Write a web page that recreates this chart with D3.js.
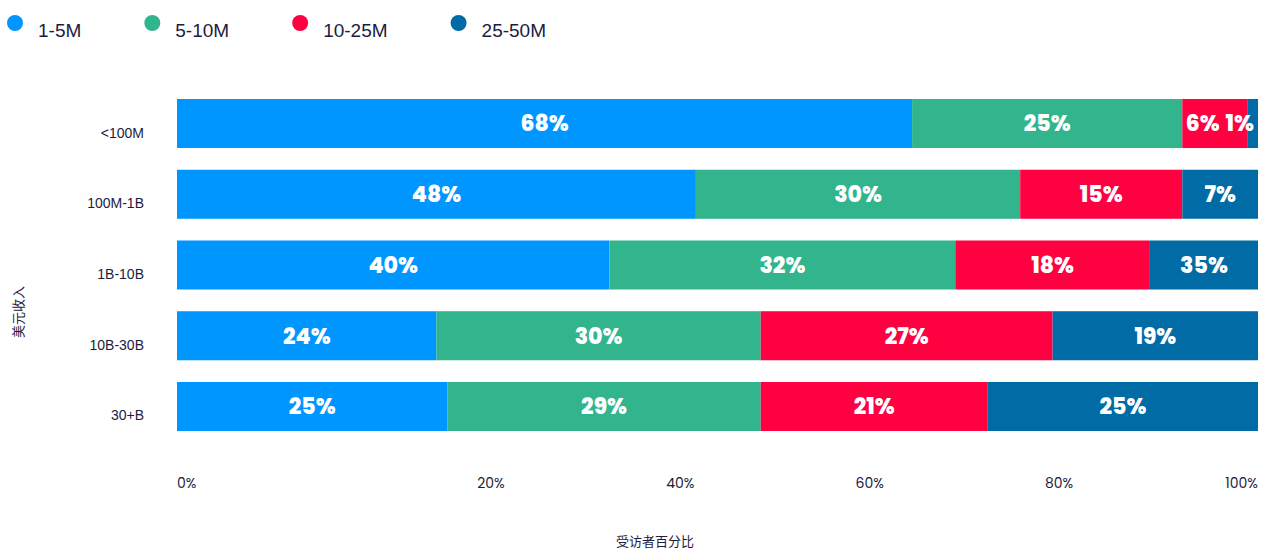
<!DOCTYPE html>
<html>
<head>
<meta charset="utf-8">
<script src="https://cdn.jsdelivr.net/npm/d3@7"></script>
<style>
  body { margin: 0; background: #ffffff; }
  svg { display: block; }
</style>
</head>
<body>
<svg id="chart" width="1262" height="550"></svg>
<script>
// Revenue bands (rows) and company-size groups (stacked segments)
const categories = ["<100M", "100M-1B", "1B-10B", "10B-30B", "30+B"];
const seriesNames = ["1-5M", "5-10M", "10-25M", "25-50M"];

// Share of respondents per revenue band, in percent
const share_1_5M   = [68, 48, 40, 24, 25];
const share_5_10M  = [25, 30, 32, 30, 29];
const share_10_25M = [6, 15, 18, 27, 21];
const share_25_50M = [1, 7, 35, 19, 25];

const tickValues = [0, 20, 40, 60, 80, 100];

const colors = ["#0096ff", "#32b58c", "#ff0041", "#006ba4"];
const inkColor = "#1c1c40";

const seriesValues = [share_1_5M, share_5_10M, share_10_25M, share_25_50M];

const rows = categories.map((cat, i) => {
  const row = { category: cat };
  seriesNames.forEach((name, s) => { row[name] = seriesValues[s][i]; });
  return row;
});

const svg = d3.select("#chart");

const plot = { left: 177, right: 1258, top: 99, bottom: 431 };

const x = d3.scaleLinear().domain([0, 100]).range([plot.left, plot.right]);
const y = d3.scaleBand().domain(categories).range([plot.top, plot.bottom]).paddingInner(0.307);
const color = d3.scaleOrdinal().domain(seriesNames).range(colors);

const stacked = d3.stack().keys(seriesNames)(rows);

// Clip bars to the 0–100% plot area
svg.append("defs").append("clipPath").attr("id", "plot-clip")
  .append("rect")
  .attr("x", plot.left).attr("y", plot.top - 10)
  .attr("width", plot.right - plot.left).attr("height", plot.bottom - plot.top + 20);

const barLayer = svg.append("g").attr("clip-path", "url(#plot-clip)");

const seriesG = barLayer.selectAll("g.series")
  .data(stacked)
  .join("g")
  .attr("class", "series")
  .attr("fill", d => color(d.key));

seriesG.selectAll("rect")
  .data(d => d)
  .join("rect")
  .attr("x", d => x(d[0]))
  .attr("y", d => y(d.data.category))
  .attr("width", d => x(d[1]) - x(d[0]))
  .attr("height", y.bandwidth());

// Value labels, centred on the visible part of each segment,
// then pushed left where they would run past the edge or into a neighbour
const labelLayer = svg.append("g");
categories.forEach((cat, i) => {
  const labels = stacked.map(series => {
    const d = series[i];
    const x0 = Math.max(x(d[0]), plot.left);
    const x1 = Math.min(x(d[1]), plot.right);
    const t = labelLayer.append("text")
      .attr("y", y(cat) + y.bandwidth() / 2)
      .attr("dy", "0.36em")
      .attr("text-anchor", "middle")
      .attr("fill", "#ffffff")
      .style("font-family", "Poppins, Inter, 'Open Sans', sans-serif")
      .style("font-weight", 800)
      .style("font-size", "22px")
      .text(d.data[series.key] + "%");
    return { node: t, cx: (x0 + x1) / 2, w: t.node().getComputedTextLength() };
  });
  let limit = plot.right - 4;
  for (let k = labels.length - 1; k >= 0; k--) {
    const L = labels[k];
    if (L.cx + L.w / 2 > limit) L.cx = limit - L.w / 2;
    limit = L.cx - L.w / 2 - 6;
    L.node.attr("x", L.cx);
  }
});

// Category labels
const yAxis = svg.append("g")
  .attr("transform", "translate(144,0)")
  .call(d3.axisLeft(y).tickSize(0).tickPadding(0));
yAxis.select(".domain").remove();
yAxis.selectAll("text")
  .attr("dy", "0")
  .attr("y", 14)
  .attr("fill", inkColor)
  .style("font-family", "'Liberation Sans', Arial, sans-serif")
  .style("font-size", "14px");

// Percentage tick labels along the bottom track
const xLabelTrack = d3.scaleLinear().domain([0, 100]).range([plot.left + 124, plot.right - 10]);
const xAxis = svg.append("g")
  .attr("transform", "translate(0,470)")
  .call(d3.axisBottom(xLabelTrack).tickValues(tickValues).tickSize(0).tickPadding(8)
    .tickFormat(d => d + "%"));
xAxis.select(".domain").remove();
xAxis.selectAll("text")
  .attr("fill", inkColor)
  .style("font-family", "Poppins, Inter, 'Open Sans', sans-serif")
  .style("font-size", "14px");
xAxis.selectAll(".tick")
  .filter(d => d === tickValues[0])
  .attr("transform", `translate(${x(tickValues[0])},0)`)
  .select("text").attr("text-anchor", "start");
xAxis.selectAll(".tick")
  .filter(d => d === tickValues[tickValues.length - 1])
  .attr("transform", `translate(${x(tickValues[tickValues.length - 1])},0)`)
  .select("text").attr("text-anchor", "end");

// Axis titles
svg.append("text")
  .attr("x", 655).attr("y", 541)
  .attr("dy", "0.36em")
  .attr("text-anchor", "middle")
  .attr("fill", inkColor)
  .style("font-family", "'Noto Sans CJK SC', sans-serif")
  .style("font-size", "13px")
  .text("受访者百分比");

svg.append("text")
  .attr("transform", "translate(18,312) rotate(-90)")
  .attr("dy", "0.36em")
  .attr("text-anchor", "middle")
  .attr("fill", inkColor)
  .style("font-family", "'Noto Sans CJK SC', sans-serif")
  .style("font-size", "13px")
  .text("美元收入");

// Legend
const legend = svg.append("g");
let cursor = 7;
seriesNames.forEach(name => {
  const item = legend.append("g");
  item.append("circle")
    .attr("cx", cursor + 8).attr("cy", 23).attr("r", 8)
    .attr("fill", color(name));
  const label = item.append("text")
    .attr("x", cursor + 31).attr("y", 37)
    .attr("fill", inkColor)
    .style("font-family", "'Liberation Sans', Arial, sans-serif")
    .style("font-size", "19px")
    .text(name);
  cursor = cursor + 31 + label.node().getComputedTextLength() + 63;
});
</script>
</body>
</html>
